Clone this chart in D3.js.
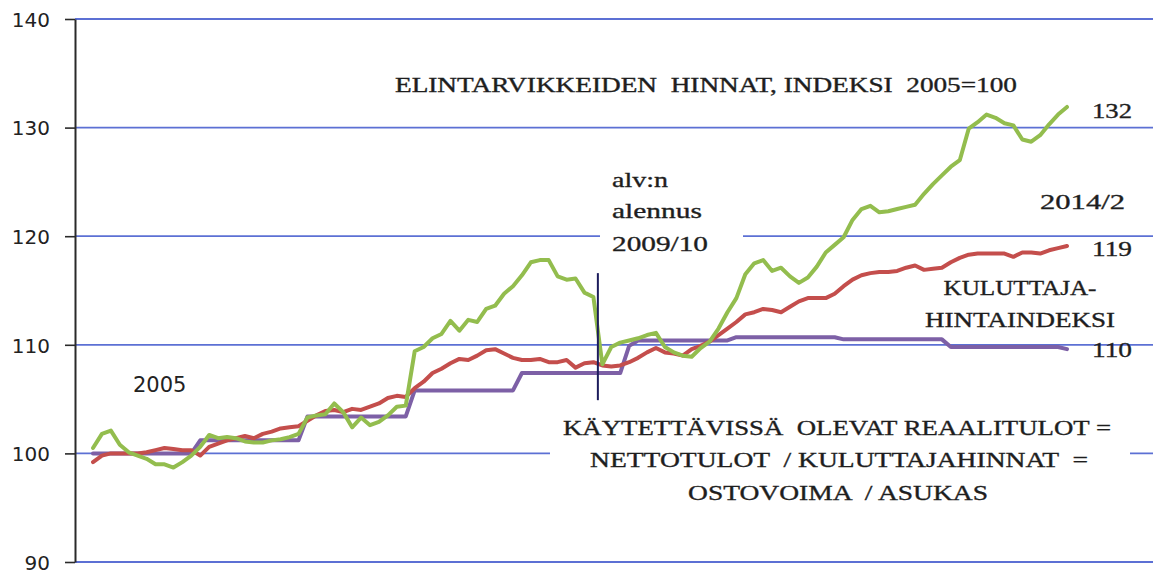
<!DOCTYPE html>
<html>
<head>
<meta charset="utf-8">
<script src="https://d3js.org/d3.v7.min.js"></script>
<style>
  body { margin: 0; background: #fff; }
  svg { display: block; }
  .note { font-family: "Liberation Serif", serif; fill: #1e1e1e; stroke: #1e1e1e; stroke-width: 0.35px; white-space: pre; }
</style>
</head>
<body>
<svg id="chart" width="1153" height="576"></svg>
<script>
// monthly index values, 2005/1 .. 2014/2 (110 months)
var food = [
  100.5, 101.8, 102.1, 100.8, 100.1, 99.8, 99.5, 99.0, 99.0, 98.7, 99.2, 99.8,
  100.6, 101.7, 101.4, 101.5, 101.4, 101.1, 101.0, 101.0, 101.2, 101.3, 101.5, 101.8,
  103.3, 103.5, 103.6, 104.6, 103.8, 102.4, 103.3, 102.6, 102.9, 103.5, 104.3, 104.4,
  109.4, 109.8, 110.6, 111.0, 112.2, 111.3, 112.3, 112.1, 113.3, 113.6, 114.7, 115.4,
  116.4, 117.6, 117.8, 117.8, 116.3, 116.0, 116.1, 114.8, 114.4, 108.2, 109.8, 110.2,
  110.4, 110.6, 110.9, 111.1, 109.8, 109.3, 109.0, 108.9, 109.7, 110.3, 111.5, 113.0,
  114.3, 116.5, 117.5, 117.8, 116.8, 117.1, 116.3, 115.7, 116.2, 117.2, 118.5, 119.2,
  119.9, 121.5, 122.5, 122.8, 122.2, 122.3, 122.5, 122.7, 122.9, 123.9, 124.8, 125.6,
  126.4, 127.0, 129.9, 130.5, 131.2, 130.9, 130.4, 130.2, 128.9, 128.7, 129.3, 130.3,
  131.2, 131.9
];

var cpi = [
  99.2, 99.8, 100.0, 100.0, 100.0, 100.0, 100.1, 100.3, 100.5, 100.4, 100.3, 100.3,
  99.8, 100.6, 100.9, 101.2, 101.4, 101.6, 101.4, 101.8, 102.0, 102.3, 102.4, 102.5,
  103.0, 103.5, 103.9, 104.0, 103.8, 104.1, 104.0, 104.3, 104.6, 105.1, 105.3, 105.2,
  106.0, 106.6, 107.4, 107.8, 108.3, 108.7, 108.6, 109.0, 109.5, 109.6, 109.2, 108.8,
  108.6, 108.6, 108.7, 108.4, 108.4, 108.6, 107.9, 108.3, 108.4, 108.1, 108.0, 108.1,
  108.4, 108.8, 109.3, 109.7, 109.3, 109.2, 109.0, 109.6, 109.9, 110.3, 110.9, 111.5,
  112.1, 112.8, 113.0, 113.3, 113.2, 113.0, 113.5, 114.0, 114.3, 114.3, 114.3, 114.7,
  115.4, 116.0, 116.4, 116.6, 116.7, 116.7, 116.8, 117.1, 117.3, 116.9, 117.0, 117.1,
  117.6, 118.0, 118.3, 118.4, 118.4, 118.4, 118.4, 118.1, 118.5, 118.5, 118.4, 118.7,
  118.9, 119.1
];

// real disposable income, yearly steps
var income = [
  100.0, 100.0, 100.0, 100.0, 100.0, 100.0, 100.0, 100.0, 100.0, 100.0, 100.0, 100.0,
  101.2, 101.2, 101.2, 101.2, 101.2, 101.2, 101.2, 101.2, 101.2, 101.2, 101.2, 101.2,
  103.4, 103.4, 103.4, 103.4, 103.4, 103.4, 103.4, 103.4, 103.4, 103.4, 103.4, 103.4,
  105.8, 105.8, 105.8, 105.8, 105.8, 105.8, 105.8, 105.8, 105.8, 105.8, 105.8, 105.8,
  107.4, 107.4, 107.4, 107.4, 107.4, 107.4, 107.4, 107.4, 107.4, 107.4, 107.4, 107.4,
  109.9, 110.4, 110.4, 110.4, 110.4, 110.4, 110.4, 110.4, 110.4, 110.4, 110.4, 110.4,
  110.7, 110.7, 110.7, 110.7, 110.7, 110.7, 110.7, 110.7, 110.7, 110.7, 110.7, 110.7,
  110.5, 110.5, 110.5, 110.5, 110.5, 110.5, 110.5, 110.5, 110.5, 110.5, 110.5, 110.5,
  109.8, 109.8, 109.8, 109.8, 109.8, 109.8, 109.8, 109.8, 109.8, 109.8, 109.8, 109.8,
  109.8, 109.6
];

var yTicks = [90, 100, 110, 120, 130, 140];
var vatMonth = 56.5; // between 2009/9 and 2009/10

var svg = d3.select("#chart");

var x = d3.scaleLinear().domain([0, food.length - 1]).range([93, 1067]);
var y = d3.scaleLinear().domain([90, 140]).range([562, 19]);

// gridlines all the way to the right edge
svg.append("g")
  .selectAll("line")
  .data(yTicks)
  .enter().append("line")
    .attr("x1", 75)
    .attr("x2", 1153)
    .attr("y1", function(d) { return y(d); })
    .attr("y2", function(d) { return y(d); })
    .attr("stroke", "#5c70d4")
    .attr("stroke-width", 1.8);

// white boxes behind text blocks (they cut the gridlines)
svg.append("rect").attr("x", 600).attr("y", 160).attr("width", 143).attr("height", 100).attr("fill", "#fff");
svg.append("rect").attr("x", 550).attr("y", 414).attr("width", 580).attr("height", 96).attr("fill", "#fff");

// axis
var yAxis = d3.axisLeft(y).tickValues(yTicks).tickSize(10).tickSizeOuter(0).tickPadding(15);
var ax = svg.append("g")
  .attr("transform", "translate(75,0)")
  .call(yAxis);
ax.select(".domain").attr("stroke", "#2a2a2a").attr("stroke-width", 2);
ax.selectAll(".tick line").attr("stroke", "#2a2a2a").attr("stroke-width", 1.6);
ax.selectAll(".tick text")
  .attr("font-family", "'DejaVu Sans', sans-serif")
  .attr("font-size", "20px")
  .attr("fill", "#222")
  .attr("dy", "0.36em");

// lines
var line = d3.line()
  .x(function(d, i) { return x(i); })
  .y(function(d) { return y(d); });

function drawseries(values, color) {
  svg.append("path")
    .datum(values)
    .attr("fill", "none")
    .attr("stroke", color)
    .attr("stroke-width", 4)
    .attr("stroke-linejoin", "round")
    .attr("stroke-linecap", "round")
    .attr("d", line);
}

drawseries(income, "#7d60a6");
drawseries(cpi, "#c44e4c");
drawseries(food, "#93bd4e");

// VAT cut marker
svg.append("line")
  .attr("x1", x(vatMonth)).attr("x2", x(vatMonth))
  .attr("y1", y(116.6)).attr("y2", y(104.9))
  .attr("stroke", "#1c1c5c")
  .attr("stroke-width", 2);

// texts
function note(txt, xpos, ypos, size, len, anchor) {
  svg.append("text")
    .attr("class", "note")
    .attr("x", xpos)
    .attr("y", ypos)
    .attr("font-size", size + "px")
    .attr("text-anchor", anchor || "start")
    .attr("textLength", len)
    .attr("lengthAdjust", "spacingAndGlyphs")
    .text(txt);
}

note("ELINTARVIKKEIDEN  HINNAT, INDEKSI  2005=100", 395, 92, 20, 622);
note("alv:n", 612, 187, 22, 56);
note("alennus", 612, 218, 22, 90);
note("2009/10", 612, 251, 22, 96);
note("2014/2", 1040, 209, 22, 85);
note("132", 1092, 118, 22, 40);
note("119", 1092, 256, 22, 40);
note("110", 1092, 357, 22, 40);
note("KULUTTAJA-", 1020, 295, 22, 153, "middle");
note("HINTAINDEKSI", 1020, 327, 22, 190, "middle");
note("KÄYTETTÄVISSÄ  OLEVAT REAALITULOT =", 837, 435, 22, 548, "middle");
note("NETTOTULOT  / KULUTTAJAHINNAT  =", 839, 467, 22, 498, "middle");
note("OSTOVOIMA  / ASUKAS", 838, 500, 22, 300, "middle");

svg.append("text")
  .attr("x", 133)
  .attr("y", 392)
  .attr("font-family", "'DejaVu Sans', sans-serif")
  .attr("font-size", "21px")
  .attr("fill", "#222")
  .text("2005");
</script>
</body>
</html>
